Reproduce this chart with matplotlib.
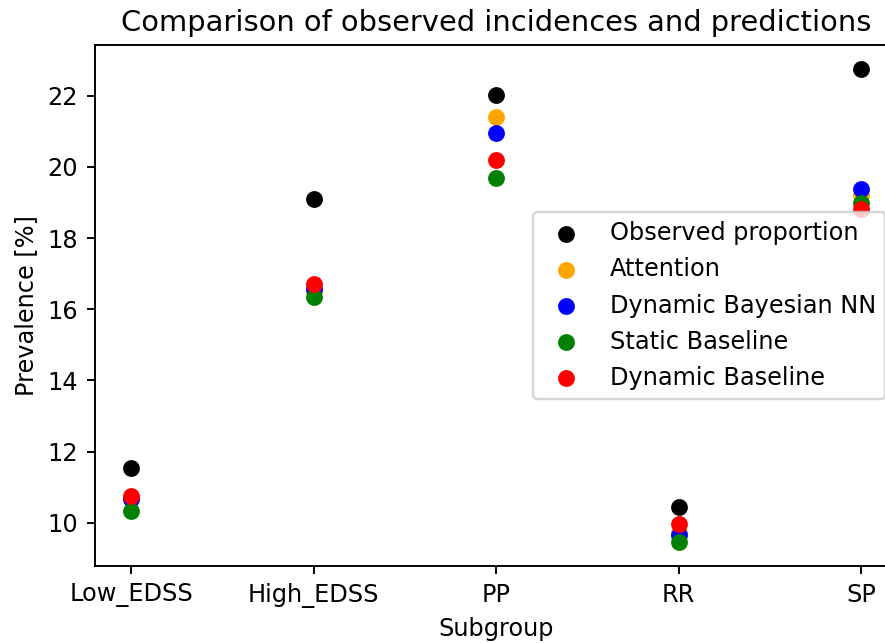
import matplotlib
matplotlib.use("Agg")
import matplotlib.pyplot as plt

# Subgroups and prevalence (%) per model
subgroups = ["Low_EDSS", "High_EDSS", "PP", "RR", "SP"]
observed = [11.55, 19.10, 22.03, 10.43, 22.76]
attention = [10.72, 16.50, 21.40, 9.70, 19.22]
dynamic_bnn = [10.68, 16.56, 20.95, 9.66, 19.39]
static_baseline = [10.33, 16.33, 19.69, 9.45, 18.98]
dynamic_baseline = [10.76, 16.70, 20.20, 9.96, 18.82]

series = [
    ("Observed proportion", observed, "black"),
    ("Attention", attention, "orange"),
    ("Dynamic Bayesian NN", dynamic_bnn, "blue"),
    ("Static Baseline", static_baseline, "green"),
    ("Dynamic Baseline", dynamic_baseline, "red"),
]

DPI = 173
fig = plt.figure(figsize=(885 / DPI, 643 / DPI), dpi=DPI)
ax = fig.add_axes([95 / 885, 77 / 643, 802.5 / 885, 521 / 643])

for label, values, color in series:
    ax.scatter(subgroups, values, color=color, label=label)

ax.set_title("Comparison of observed incidences and predictions")
ax.set_xlabel("Subgroup")
ax.set_ylabel("Prevalence [%]")
ax.legend(loc="center right")

fig.savefig("out.png", dpi=DPI)
